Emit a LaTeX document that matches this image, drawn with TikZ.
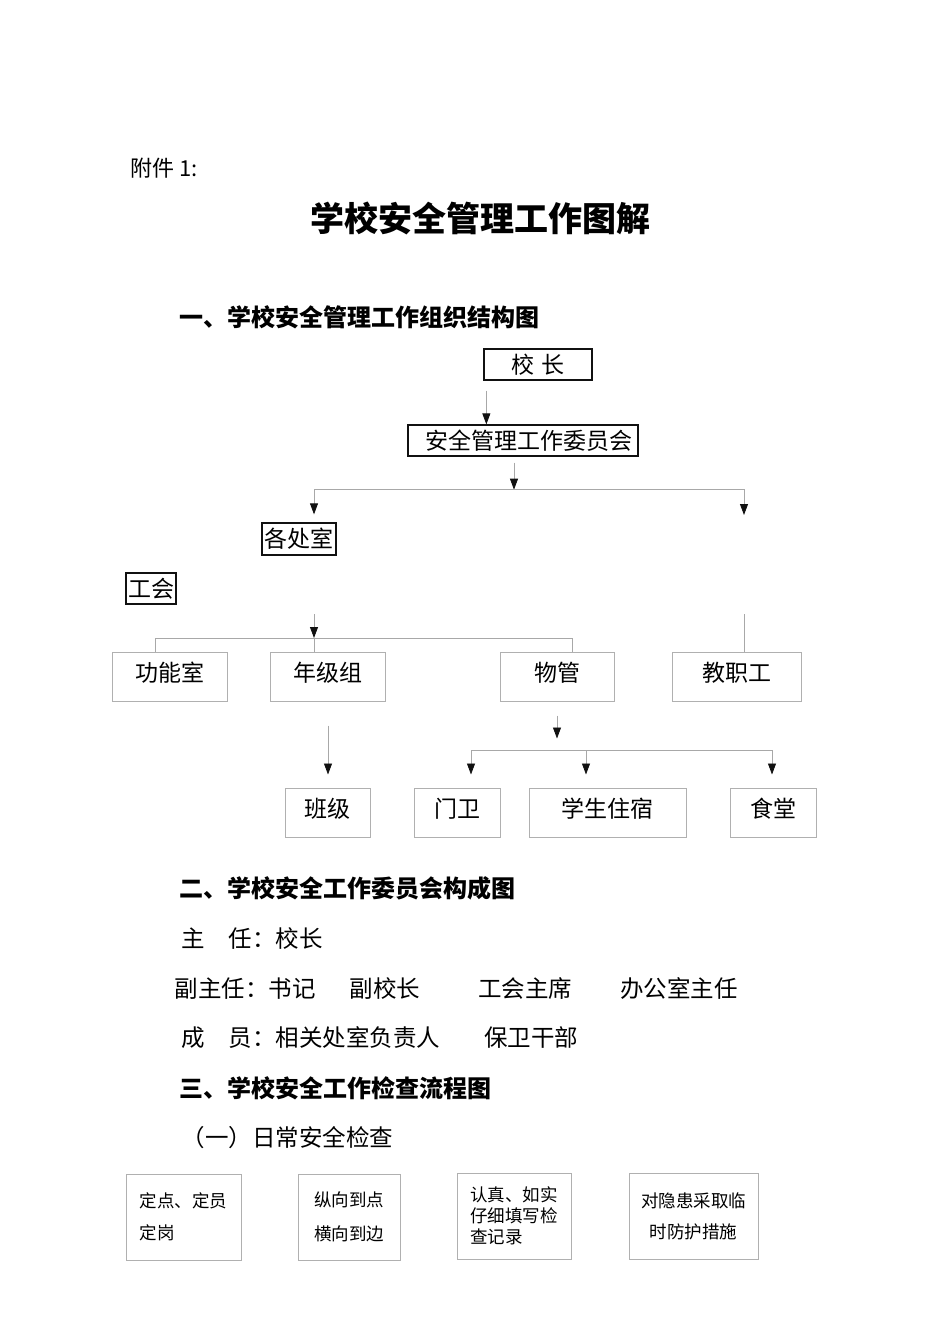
\documentclass[tikz,border=0pt]{standalone}
\usepackage{fontspec}
\setmainfont{Noto Sans CJK SC}
\usetikzlibrary{arrows.meta,calc,positioning}
\definecolor{Ink}{HTML}{111111}
\definecolor{LineGray}{HTML}{A8A8A8}
\definecolor{BoxGray}{HTML}{B0B0B0}

\begin{document}
\begin{tikzpicture}[x=1pt,y=-1pt,
    darkbox/.style={draw=Ink,line width=1.3pt,inner sep=1pt,font=\fontsize{23}{26}\selectfont},
    graybox/.style={draw=BoxGray,line width=1pt,inner sep=1pt,minimum height=49pt,
      text height=17pt,text depth=8pt,font=\fontsize{23}{26}\selectfont},
    notebox/.style={draw=BoxGray,line width=1pt,inner sep=1pt,minimum height=86pt},
    link/.style={draw=LineGray,line width=0.8pt},
    arrowlink/.style={link,-{Triangle[width=8pt,length=11pt,color=Ink]}},
    heading/.style={anchor=west,font=\bfseries\fontsize{24}{28}\selectfont},
    bodyline/.style={anchor=west,font=\fontsize{23.5}{28}\selectfont}]
  \fill[white] (0,0) rectangle (950,1344);
  \useasboundingbox (0,0) rectangle (950,1344);

  \node[anchor=west,font=\fontsize{22}{26}\selectfont] (annex) at (127,168) {附件 1:};
  \node[font=\bfseries\fontsize{34}{40}\selectfont] (title) at (480,218) {学校安全管理工作图解};
  \node[heading] (secA) at (176,317) {一、学校安全管理工作组织结构图};

  % organisation chart
  \node[darkbox,minimum width=108pt,minimum height=31pt] (head) at (538,364.5) {校\hspace{8pt}长};
  \node[darkbox,minimum width=230pt,minimum height=31pt] (board) at (523,440.5) {\hspace*{12pt}安全管理工作委员会};
  \node[darkbox,minimum width=74pt,minimum height=32pt] (dept) at (299,539) {各处室};
  \node[darkbox,minimum width=50pt,minimum height=31pt] (union) at (151,588.5) {工会};

  \node[graybox,minimum width=115pt] (func) at (169.5,676.5) {功能室};
  \node[graybox,minimum width=115pt] (grade) at (327.5,676.5) {年级组};
  \node[graybox,minimum width=114pt] (asset) at (557,676.5) {物管};
  \node[graybox,minimum width=129pt] (staff) at (736.5,676.5) {教职工};

  \node[graybox,minimum width=85pt] (cls) at (327.5,812.5) {班级};
  \node[graybox,minimum width=86pt] (gate) at (457,812.5) {门卫};
  \node[graybox,minimum width=157pt] (dorm) at (607.5,812.5) {学生住宿};
  \node[graybox,minimum width=86pt] (canteen) at (773,812.5) {食堂};

  \coordinate (headout) at ([shift={(3,10)}]head.south west);
  \draw[arrowlink] (headout) -- (headout |- board.north);

  \coordinate (boardout) at ([shift={(-9,6)}]board.south);
  \coordinate (fork) at ([shift={(-9,33)}]board.south);
  \coordinate (busL) at (314,489);
  \coordinate (busR) at (744,489);
  \draw[arrowlink] (boardout) -- (fork);
  \draw[link] (busL) -- (busR);
  \draw[arrowlink,shorten >=8pt] (busL) -- (busL |- dept.north);
  \draw[arrowlink] (busR) -- ++(0,26);

  \coordinate (midin) at (314,614);
  \coordinate (midbus) at (314,638);
  \coordinate (busC) at (155,638);
  \coordinate (busD) at (572,638);
  \draw[arrowlink] (midin) -- (midbus);
  \draw[link] (busC) -- (busD);
  \foreach \n/\p in {func/busC,grade/midbus,asset/busD}
    \draw[link] (\p) -- (\p |- \n.north);
  \coordinate (staffin) at (744,614);
  \draw[link] (staffin) -- (staffin |- staff.north);

  \coordinate (gradeout) at ([shift={(0.5,24)}]grade.south);
  \draw[arrowlink,shorten >=13pt] (gradeout) -- (gradeout |- cls.north);

  \coordinate (assetout) at ([shift={(0,14)}]asset.south);
  \coordinate (assetbus) at ([shift={(0,37)}]asset.south);
  \draw[arrowlink] (assetout) -- (assetbus);
  \coordinate (busE) at (471,750);
  \coordinate (busF) at (586,750);
  \coordinate (busG) at (772,750);
  \draw[link] (busE) -- (busG);
  \foreach \n/\p in {gate/busE,dorm/busF,canteen/busG}
    \draw[arrowlink,shorten >=13pt] (\p) -- (\p |- \n.north);

  % committee members
  \node[heading] (secB) at (176,888) {二、学校安全工作委员会构成图};
  \node[bodyline] (chair) at (178,938) {主　任：校长};
  \node[bodyline] (vice) at (171,988) {副主任：书记\hspace{34pt}副校长\hspace{58pt}工会主席\hspace{48pt}办公室主任};
  \node[bodyline] (member) at (178,1038) {成　员：相关处室负责人\hspace{44pt}保卫干部};

  % inspection flow
  \node[heading] (secC) at (176,1088) {三、学校安全工作检查流程图};
  \node[bodyline] (daily) at (178,1138) {（一）日常安全检查};

  \node[notebox,minimum width=115pt,align=left,font=\fontsize{17.5}{32}\selectfont] (fix) at (183.5,1217) {定点、定员\\定岗};
  \node[notebox,minimum width=102pt,align=center,font=\fontsize{17.5}{34}\selectfont] (cover) at (349,1217) {纵向到点\\横向到边};
  \node[notebox,minimum width=114pt,align=left,font=\fontsize{17.5}{21}\selectfont] (record) at (514,1216) {认真、如实\\仔细填写检\\查记录};
  \node[notebox,minimum width=129pt,align=center,font=\fontsize{17.5}{31}\selectfont] (guard) at (693.5,1216) {对隐患采取临\\时防护措施};
\end{tikzpicture}
\end{document}
